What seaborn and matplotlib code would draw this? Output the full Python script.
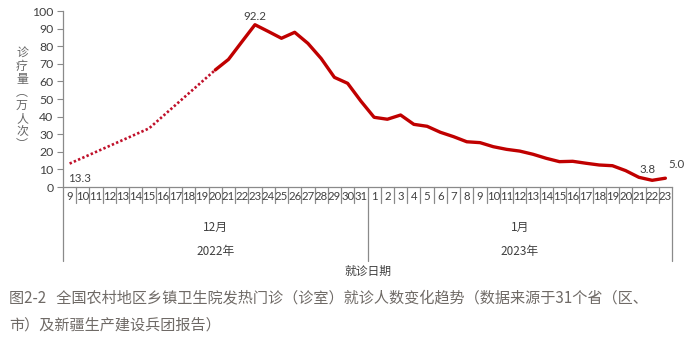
import matplotlib
matplotlib.use("Agg")
import matplotlib.pyplot as plt
import seaborn as sns
import pandas as pd
import numpy as np

# ---- data ----
dec_days = [str(d) for d in range(9, 32)]
jan_days = [str(d) for d in range(1, 24)]
day_labels = dec_days + jan_days
month_labels = ["12月", "1月"]
year_labels = ["2022年", "2023年"]

# sparse early reports (drawn dotted)
early_days = ["9", "15", "20"]
early_values = [13.3, 33.3, 66.5]

# daily reports from 20 Dec onward (drawn solid)
daily_values = [66.5, 72.5, 82.4, 92.2, 88.4, 84.5, 87.9, 81.6, 73.0, 62.3, 58.9, 48.8,
                39.6, 38.5, 40.9, 35.6, 34.5, 31.1, 28.6, 25.7, 25.2, 22.9, 21.4, 20.4,
                18.6, 16.3, 14.4, 14.6, 13.5, 12.5, 12.1, 9.3, 5.5, 3.8, 5.0]

y_ticks = list(range(0, 101, 10))
y_label = "诊疗量︵万人次︶"
x_title = "就诊日期"
caption_lines = ["图2-2   全国农村地区乡镇卫生院发热门诊（诊室）就诊人数变化趋势（数据来源于31个省（区、",
                 "市）及新疆生产建设兵团报告）"]

# ---- build frames ----
n_dec = len(dec_days)
early_df = pd.DataFrame({"pos": [dec_days.index(d) for d in early_days], "value": early_values})
start = dec_days.index("20")
daily_df = pd.DataFrame({"pos": np.arange(start, start + len(daily_values)), "value": daily_values})

sns.set_theme(style="white")
plt.rcParams["font.family"] = ["Noto Sans CJK SC", "DejaVu Sans"]

W, H = 684, 343
fig = plt.figure(figsize=(W / 100, H / 100), dpi=100)
ax_left, ax_right, ax_top, ax_bottom = 63, 672, 11, 187
ax = fig.add_axes([ax_left / W, 1 - ax_bottom / H, (ax_right - ax_left) / W, (ax_bottom - ax_top) / H])

red = "#C00000"
dot_red = "#C0102A"
grey = "#8a8a8a"
txt = "#404040"
num_font = ["Lato", "DejaVu Sans"]

sns.lineplot(data=early_df, x="pos", y="value", ax=ax, color=dot_red, lw=1.9,
             linestyle=(0, (0.9, 0.85)), dash_capstyle="butt")
sns.lineplot(data=daily_df, x="pos", y="value", ax=ax, color=red, lw=2.4,
             solid_joinstyle="round")

n = len(day_labels)
ax.set_xlim(-0.5, n - 0.5)
ax.set_ylim(0, 100)
ax.set_xticks([])
ax.set_yticks(y_ticks)
ax.set_yticklabels([str(t) for t in y_ticks], family=num_font, fontsize=8.8, color=txt)
ax.tick_params(axis="y", length=4, width=0.8, color=grey, pad=3, left=True)
ax.set_xlabel("")
ax.set_ylabel("")
for s in ["top", "right"]:
    ax.spines[s].set_visible(False)
for s in ["left", "bottom"]:
    ax.spines[s].set_color(grey)
    ax.spines[s].set_linewidth(0.9)

# value labels
lab_kw = dict(textcoords="offset points", fontsize=8.3, family=num_font, color=txt)
pk = int(np.argmax(daily_values))
ax.annotate(f"{daily_values[pk]:.1f}", (daily_df.pos[pk], daily_values[pk]), xytext=(0, 2),
            ha="center", va="bottom", **lab_kw)
ax.annotate(f"{early_values[0]:.1f}", (early_df.pos[0], early_values[0]), xytext=(-1.5, -7),
            ha="left", va="top", **lab_kw)
ax.annotate(f"{daily_values[-2]:.1f}", (daily_df.pos.iloc[-2], daily_values[-2]), xytext=(-3, 4),
            ha="center", va="bottom", **lab_kw)
ax.annotate(f"{daily_values[-1]:.1f}", (daily_df.pos.iloc[-1], daily_values[-1]), xytext=(2, 6),
            ha="left", va="bottom", **lab_kw)

# category table under the axis
ax_h = ax_bottom - ax_top
def fy(px):
    return -(px - ax_bottom) / ax_h

trans = ax.get_xaxis_transform()
cell_bottom = fy(203)
group_bottom = fy(261)
for i in range(n + 1):
    x = i - 0.5
    yb = group_bottom if i in (0, n_dec, n) else cell_bottom
    ax.plot([x, x], [0, yb], transform=trans, color=grey, lw=0.9, clip_on=False)
for i, lab in enumerate(day_labels):
    ax.text(i, fy(196), lab, transform=trans, ha="center", va="center", fontsize=8.2,
            family=num_font, color=txt)
groups = [(0, n_dec), (n_dec, n)]
for (a, b), m, yr in zip(groups, month_labels, year_labels):
    cx = (a + b - 1) / 2
    ax.text(cx, fy(227), m, transform=trans, ha="center", va="center", fontsize=8.5, color=txt)
    ax.text(cx, fy(252), yr, transform=trans, ha="center", va="center", fontsize=8.5, color=txt)
ax.text(n_dec - 0.5, fy(271), x_title, transform=trans, ha="center", va="center", fontsize=8.5, color=txt)

# vertical y-axis title
fig.text(22 / W, 1 - 99 / H, "\n".join(y_label), ha="center", va="center", fontsize=8.6,
         color="#666666", linespacing=1.0)

# caption
cap_color = "#6f6a66"
fig.text(9 / W, 1 - 298 / H, caption_lines[0], ha="left", va="center", fontsize=10.9, color=cap_color)
fig.text(9 / W, 1 - 325 / H, caption_lines[1], ha="left", va="center", fontsize=10.9, color=cap_color)

fig.savefig("out.png", dpi=100)
